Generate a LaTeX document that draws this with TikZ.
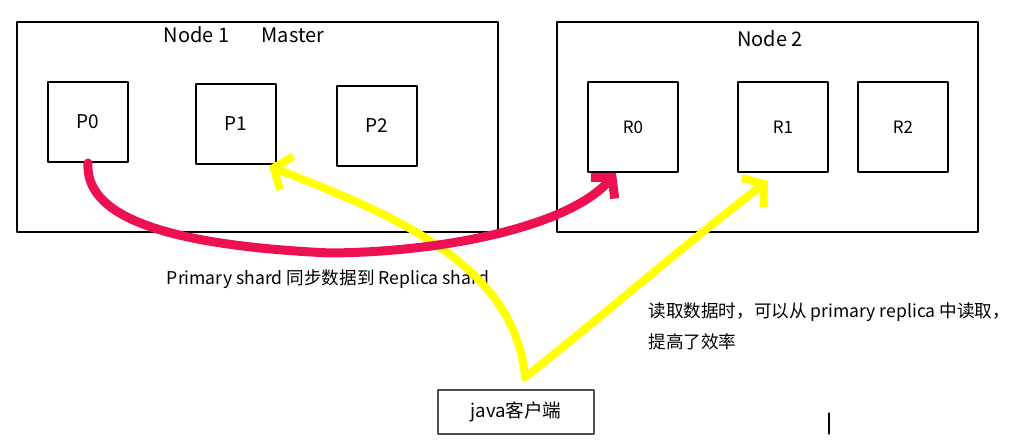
\documentclass[tikz,border=0pt]{standalone}
\usepackage{fontspec}
\newfontfamily\cjk{Noto Sans CJK SC}
\usetikzlibrary{arrows.meta,calc}
\definecolor{syncred}{RGB}{238,17,82}
\definecolor{readyellow}{RGB}{255,255,0}
\tikzset{
  hostbox/.style={draw,line width=1pt,minimum width=240.5pt,minimum height=105pt,inner sep=0pt},
  shardbox/.style={draw,line width=1pt,minimum width=40pt,minimum height=40pt,inner sep=0pt,font=\cjk\fontsize{9.5}{11}\selectfont},
  replicabox/.style={shardbox,minimum width=45pt,minimum height=45pt,font=\cjk\fontsize{8.5}{10}\selectfont},
  hosttitle/.style={font=\cjk\fontsize{10}{12}\selectfont},
  clientbox/.style={draw=black!70,line width=0.7pt,minimum width=78pt,minimum height=22pt,inner sep=0pt},
  syncline/.style={draw=syncred,line width=4.5pt,-{Straight Barb[length=7pt,width=16pt]}},
  readline/.style={draw=readyellow,line width=4pt,-{Straight Barb[length=7pt,width=18pt]}}
}
\begin{document}
\begin{tikzpicture}[x=0.5pt,y=-0.5pt,font=\cjk\fontsize{8.8}{15.5}\selectfont,line join=round,line cap=round]
	\useasboundingbox (0,0) rectangle (1023,443);
	\node[hostbox] (N1) at (257.5,127) {};
	\node[hostbox,minimum width=210.5pt] (N2) at (767.5,127) {};
	\node[hosttitle] (N1title) at (244,35) {Node 1\hspace{1.6em}Master};
	\node[hosttitle] (N2title) at (770,39) {Node 2};
	\node[shardbox] (P0) at (88,122) {P0};
	\node[shardbox] (P1) at (236,124) {P1};
	\node[shardbox] (P2) at (376.5,126) {P2};
	\node[replicabox] (R0) at (633,127) {R0};
	\node[replicabox] (R1) at (783,127) {R1};
	\node[replicabox] (R2) at (903,127) {R2};
	\node[clientbox] (client) at (516,412) {\fontsize{9.3}{11}\selectfont java客户端};
	\node (synctext) at (328,279) {Primary shard 同步数据到 Replica shard};
	\node[anchor=west,align=left,inner sep=0pt] (readtext) at (648,326) {读取数据时，可以从 primary replica 中读取，\\提高了效率};
	\coordinate (fork) at ($(client.north)+(9,-12)$);
	\coordinate (P1end) at ($(P1.south east)+(-8,1)$);
	\coordinate (R1end) at ($(R1.south)+(-15,8)$);
	\coordinate (R0end) at ($(R0.south)+(-17,0)$);
	\draw[readline] (fork) .. controls (515,260) and (380,210) .. (P1end);
	\draw[readline] (fork) .. controls (600,318) and (700,232) .. (R1end);
	\draw[syncline] (P0.south) .. controls (85,215) and (160,245) .. (330,253) .. controls (450,252) and (570,225) .. (R0end);
	\draw[line width=0.6pt] (829,413) -- (829,434);
\end{tikzpicture}
\end{document}
